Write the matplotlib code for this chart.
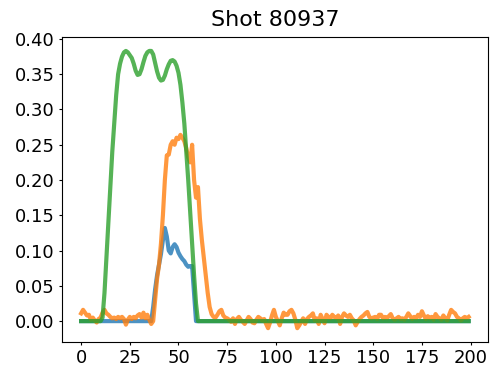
import numpy as np
import matplotlib
matplotlib.use("Agg")
import matplotlib.pyplot as plt
from matplotlib.ticker import MultipleLocator, FormatStrFormatter

title = "Shot 80937"

# channel 1 (blue)
blue = ([0.0] * 37 +
        [0.02, 0.045, 0.065, 0.08, 0.095, 0.115, 0.132, 0.12, 0.10, 0.096,
         0.105, 0.109, 0.105, 0.097, 0.092, 0.088, 0.085, 0.080, 0.077, 0.078,
         0.078, 0.04] +
        [0.0] * 141)

# channel 2 (orange)
orange = [0.011, 0.016, 0.012, 0.008, 0.009, 0.002, 0.005, 0.001, -0.002, 0.003,
          0.005, 0.012, 0.016, 0.011, 0.009, 0.006, 0.004, 0.005, 0.003, 0.006,
          0.004, 0.006, 0.003, -0.005, 0.002, 0.006, 0.003, 0.006, 0.004, 0.008,
          0.010, 0.005, 0.012, 0.004, 0.009, 0.002, -0.004, 0.0, 0.03, 0.06,
          0.08, 0.11, 0.15, 0.20, 0.235, 0.236, 0.25, 0.255, 0.25, 0.26,
          0.258, 0.264, 0.26, 0.255, 0.245, 0.232, 0.225, 0.25, 0.20, 0.175,
          0.19, 0.145, 0.115, 0.09, 0.065, 0.04, 0.02, 0.01, 0.006, 0.005,
          0.009, 0.014, 0.016, 0.008, 0.005, 0.004, 0.002, -0.001, 0.004, -0.004,
          0.003, 0.006, 0.002, -0.001, -0.004, 0.001, 0.006, 0.003, -0.002, -0.003,
          0.002, 0.006, 0.004, 0.001, 0.003, -0.004, -0.010, -0.002, 0.008, 0.016,
          0.006, 0.0, -0.006, 0.004, 0.012, 0.009, 0.009, 0.014, 0.016, 0.011,
          0.002, -0.010, -0.006, -0.001, 0.004, -0.004, 0.003, 0.006, 0.008, 0.011,
          0.001, 0.004, -0.004, 0.009, 0.003, -0.003, 0.009, 0.006, 0.004, 0.009,
          0.006, 0.004, 0.008, -0.004, 0.006, 0.011, 0.008, 0.006, 0.009, 0.004,
          0.001, -0.006, -0.001, 0.003, 0.006, 0.008, 0.011, 0.013, 0.006, 0.004,
          0.005, 0.006, 0.003, 0.009, 0.009, 0.004, 0.006, 0.004, 0.007, 0.010,
          0.004, 0.002, 0.004, 0.006, 0.003, 0.004, 0.002, 0.006, 0.011, 0.007,
          0.003, 0.006, 0.004, 0.009, 0.006, 0.014, 0.008, 0.003, 0.007, 0.004,
          0.006, 0.002, 0.010, 0.006, 0.004, 0.002, 0.008, 0.004, 0.001, 0.009,
          0.016, 0.013, 0.011, 0.006, 0.004, 0.001, 0.004, 0.006, 0.004, 0.006]

# channel 3 (green)
green = ([0.0] * 11 +
         [0.005, 0.04, 0.09, 0.14, 0.19, 0.24, 0.28, 0.32, 0.35, 0.365,
          0.375, 0.381, 0.383, 0.381, 0.377, 0.373, 0.365, 0.355, 0.349, 0.350,
          0.357, 0.367, 0.376, 0.381, 0.383, 0.383, 0.378, 0.366, 0.354, 0.345,
          0.341, 0.342, 0.348, 0.357, 0.364, 0.369, 0.370, 0.368, 0.362, 0.352,
          0.335, 0.31, 0.28, 0.24, 0.20, 0.155, 0.11, 0.065, 0.025] +
         [0.0] * 140)

x = np.arange(len(orange))

fig = plt.figure(figsize=(4.9, 3.67), dpi=100)
ax = fig.add_axes([0.126, 0.068, 0.87, 0.831])
ax.plot(x, blue, linewidth=3, alpha=0.8)
ax.plot(x, orange, linewidth=3, alpha=0.8)
ax.plot(x, green, linewidth=3, alpha=0.8)
ax.set_title(title, fontsize=16, pad=8)
ax.xaxis.set_major_locator(MultipleLocator(25))
ax.yaxis.set_major_locator(MultipleLocator(0.05))
ax.yaxis.set_major_formatter(FormatStrFormatter('%.2f'))
ax.tick_params(axis='both', labelsize=13, length=2.5, pad=2.5)
fig.savefig("out.png")
